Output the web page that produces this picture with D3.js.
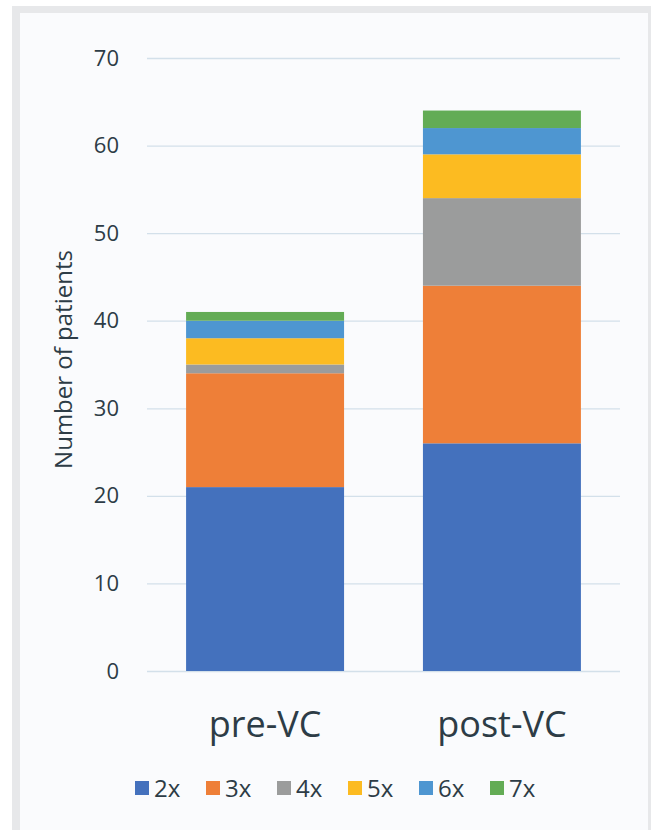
<!DOCTYPE html>
<html>
<head>
<meta charset="utf-8">
<script src="https://cdn.jsdelivr.net/npm/d3@7"></script>
<style>
  html, body { margin: 0; padding: 0; background: #ffffff; }
  svg { display: block; }
  text { font-family: "Open Sans", Lato, sans-serif; fill: #2d3c46; font-weight: 500; }
</style>
</head>
<body>
<svg id="chart" width="651" height="830"></svg>
<script>
// Patients by number of admissions, before and after VC
const categories = ["pre-VC", "post-VC"];
const seriesNames = ["2x", "3x", "4x", "5x", "6x", "7x"];
const seriesColors = ["#4471bd", "#ee7f38", "#9b9c9c", "#fcbb21", "#4e96d1", "#63ac55"];
const values2x = [21, 26];
const values3x = [13, 18];
const values4x = [1, 10];
const values5x = [3, 5];
const values6x = [2, 3];
const values7x = [1, 2];
const yTicks = [0, 10, 20, 30, 40, 50, 60, 70];

const seriesValues = [values2x, values3x, values4x, values5x, values6x, values7x];
const rows = categories.map((c, i) => {
  const r = { category: c };
  seriesNames.forEach((s, j) => { r[s] = seriesValues[j][i]; });
  return r;
});

const svg = d3.select("#chart");
const textColor = "#2d3c46";

// Panel frame
svg.append("rect").attr("x", 12).attr("y", 6).attr("width", 651 - 12).attr("height", 830 - 6).attr("fill", "#e7e8ea");
svg.append("rect").attr("x", 20).attr("y", 13).attr("width", 651 - 20 - 3).attr("height", 830 - 13).attr("fill", "#fafbfd");

const plot = { left: 147, right: 620, top: 58, bottom: 671 };

const x = d3.scaleBand().domain(categories).range([plot.left, plot.right]).paddingInner(0.333).paddingOuter(0.165);
const y = d3.scaleLinear().domain([0, 70]).range([plot.bottom, plot.top]);

// Gridlines and value labels
const yAxis = d3.axisLeft(y).tickValues(yTicks).tickSize(-(plot.right - plot.left)).tickPadding(28).tickFormat(d3.format("d"));
const gy = svg.append("g").attr("transform", `translate(${plot.left},0)`).call(yAxis);
gy.select(".domain").remove();
gy.selectAll(".tick line").attr("stroke", "#d3e0ea").attr("stroke-width", 1.3);
gy.selectAll(".tick text").attr("font-size", 22).style("fill", textColor).attr("font-family", "'Open Sans', sans-serif").attr("font-weight", 500);

// Stacked bars
const stacked = d3.stack().keys(seriesNames)(rows);
const color = d3.scaleOrdinal().domain(seriesNames).range(seriesColors);
svg.append("g").selectAll("g").data(stacked).join("g")
  .attr("fill", d => color(d.key))
  .selectAll("rect").data(d => d).join("rect")
  .attr("x", d => x(d.data.category))
  .attr("width", x.bandwidth())
  .attr("y", d => y(d[1]))
  .attr("height", d => y(d[0]) - y(d[1]));

// Category labels
const xAxis = d3.axisBottom(x).tickSize(0).tickPadding(40);
const gx = svg.append("g").attr("transform", `translate(0,${plot.bottom})`).call(xAxis);
gx.select(".domain").remove();
gx.selectAll(".tick text").attr("font-size", 36).style("fill", textColor).attr("font-family", "'Open Sans', sans-serif").attr("font-weight", 500);

// Y axis title
svg.append("text")
  .attr("transform", `translate(72,${(plot.top + plot.bottom) / 2 - 5}) rotate(-90)`)
  .attr("text-anchor", "middle")
  .attr("font-size", 24)
  .text("Number of patients");

// Legend
const legend = svg.append("g").attr("transform", "translate(135,788)");
const item = legend.selectAll("g").data(seriesNames).join("g")
  .attr("transform", (d, i) => `translate(${i * 71},0)`);
item.append("rect").attr("x", 0).attr("y", -7).attr("width", 14).attr("height", 14).attr("fill", d => color(d));
item.append("text").attr("x", 19).attr("y", 9).attr("font-size", 24).text(d => d);
</script>
</body>
</html>
